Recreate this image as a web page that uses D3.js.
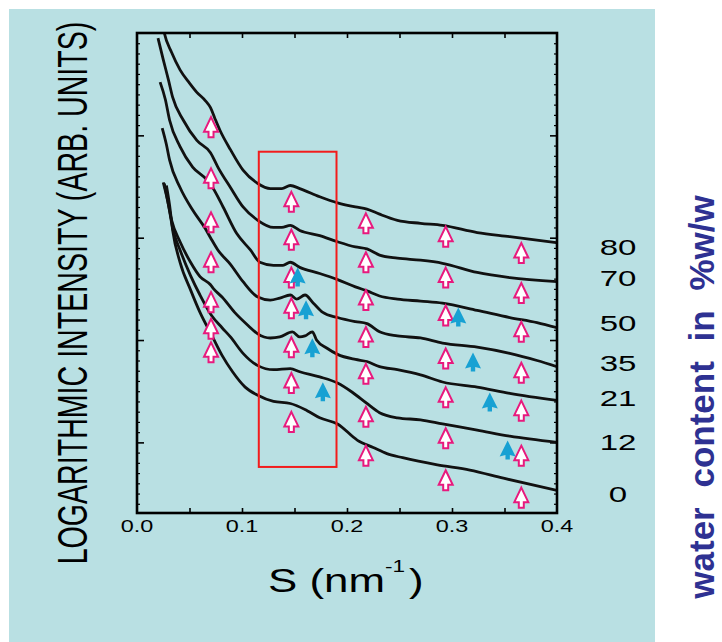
<!DOCTYPE html>
<html>
<head>
<meta charset="utf-8">
<title>SAXS curves vs water content</title>
<script src="https://d3js.org/d3.v7.min.js"></script>
<style>
  body { margin: 0; background: #fff; }
  svg { display: block; font-family: "Liberation Sans", Arial, sans-serif; }
  .curve { fill: none; stroke: #111; stroke-width: 2.8px; stroke-linejoin: round; }
  .axis line { stroke: #000; }
  .axis path { display: none; }
</style>
</head>
<body>
<script>
// water content (%w/w), top curve to bottom curve
const water = ["80", "70", "50", "35", "21", "12", "0"];
const waterLabelLevel = [1.91, 1.61, 1.17, 0.77, 0.43, 0.00, -0.51];

// scattering curves: [s (nm^-1), log intensity, arb. units]
const c80 = [[0.025,4.05],[0.026,4.00],[0.033,3.81],[0.041,3.64],[0.050,3.51],[0.057,3.42],[0.065,3.34],[0.070,3.27],[0.074,3.17],[0.079,3.05],[0.089,2.86],[0.101,2.66],[0.115,2.53],[0.127,2.48],[0.138,2.48],[0.146,2.51],[0.155,2.48],[0.174,2.40],[0.191,2.34],[0.208,2.30],[0.219,2.28],[0.231,2.23],[0.248,2.17],[0.270,2.14],[0.291,2.12],[0.324,2.05],[0.355,2.01],[0.400,1.95]];
const c70 = [[0.020,3.95],[0.025,3.74],[0.030,3.54],[0.034,3.37],[0.044,3.15],[0.057,2.95],[0.070,2.83],[0.077,2.69],[0.089,2.49],[0.101,2.30],[0.115,2.17],[0.130,2.10],[0.138,2.10],[0.146,2.12],[0.155,2.07],[0.174,2.02],[0.191,1.96],[0.208,1.91],[0.219,1.89],[0.231,1.83],[0.248,1.80],[0.270,1.78],[0.291,1.75],[0.324,1.66],[0.355,1.61],[0.400,1.57]];
const c50 = [[0.022,3.52],[0.027,3.35],[0.031,3.15],[0.041,2.89],[0.053,2.69],[0.067,2.56],[0.072,2.49],[0.082,2.30],[0.095,2.04],[0.108,1.88],[0.117,1.76],[0.130,1.73],[0.139,1.73],[0.146,1.76],[0.155,1.71],[0.174,1.65],[0.191,1.59],[0.208,1.52],[0.219,1.48],[0.231,1.43],[0.248,1.40],[0.270,1.38],[0.291,1.36],[0.324,1.29],[0.355,1.22],[0.381,1.17],[0.400,1.12]];
const c35 = [[0.024,3.07],[0.028,2.91],[0.031,2.76],[0.041,2.49],[0.053,2.27],[0.065,2.09],[0.070,2.00],[0.077,1.88],[0.089,1.74],[0.101,1.57],[0.115,1.42],[0.127,1.39],[0.136,1.41],[0.146,1.44],[0.152,1.40],[0.160,1.44],[0.168,1.36],[0.177,1.27],[0.191,1.22],[0.208,1.18],[0.219,1.16],[0.231,1.08],[0.248,1.04],[0.270,1.02],[0.291,0.97],[0.324,0.93],[0.355,0.87],[0.381,0.80],[0.400,0.74]];
const c21 = [[0.025,2.54],[0.029,2.37],[0.033,2.17],[0.041,1.96],[0.051,1.76],[0.060,1.62],[0.070,1.54],[0.073,1.50],[0.081,1.42],[0.093,1.27],[0.106,1.14],[0.115,1.06],[0.127,1.02],[0.136,1.03],[0.148,1.08],[0.155,1.03],[0.160,1.04],[0.167,1.08],[0.171,1.00],[0.181,0.92],[0.191,0.86],[0.208,0.81],[0.219,0.79],[0.231,0.74],[0.248,0.71],[0.270,0.66],[0.291,0.59],[0.324,0.54],[0.355,0.48],[0.400,0.41]];
const c12 = [[0.026,2.53],[0.030,2.32],[0.034,2.09],[0.041,1.88],[0.051,1.63],[0.060,1.44],[0.071,1.24],[0.081,1.12],[0.089,1.03],[0.101,0.87],[0.115,0.75],[0.130,0.71],[0.146,0.72],[0.155,0.69],[0.174,0.64],[0.191,0.58],[0.205,0.49],[0.219,0.38],[0.231,0.29],[0.248,0.24],[0.270,0.22],[0.291,0.18],[0.324,0.12],[0.355,0.06],[0.400,0.00]];
const c0 = [[0.028,2.51],[0.031,2.32],[0.034,2.07],[0.041,1.76],[0.051,1.49],[0.060,1.27],[0.071,1.05],[0.081,0.85],[0.091,0.69],[0.103,0.54],[0.115,0.46],[0.130,0.40],[0.146,0.38],[0.162,0.31],[0.174,0.24],[0.191,0.18],[0.210,0.02],[0.225,-0.05],[0.238,-0.11],[0.253,-0.15],[0.286,-0.22],[0.317,-0.27],[0.349,-0.35],[0.400,-0.47]];
const curves = [c80, c70, c50, c35, c21, c12, c0];

// open (pink) arrows: one column per reflection order, one row per curve
const pinkS = [0.0705, 0.147, 0.218, 0.294, 0.366];
const pinkLevels = [
  [3.08, 2.58, 2.15, 1.76, 1.37, 1.11, 0.88],
  [2.35, 1.98, 1.61, 1.31, 0.93, 0.58, 0.20],
  [2.14, 1.76, 1.39, 1.03, 0.67, 0.25, -0.13],
  [2.01, 1.61, 1.24, 0.82, 0.44, 0.04, -0.37],
  [1.85, 1.46, 1.08, 0.68, 0.31, -0.13, -0.54]
];

// filled (blue) arrows
const blueS = [0.153, 0.161, 0.167, 0.177, 0.306, 0.320, 0.336, 0.353];
const blueLevel = [1.61, 1.29, 0.92, 0.49, 1.22, 0.78, 0.39, -0.08];

// highlighted region
const boxS = [0.116, 0.190];
const boxLevel = [-0.24, 2.84];

// axes
const sTicks = [0.0, 0.1, 0.2, 0.3, 0.4];
const sTickLabels = ["0.0", "0.1", "0.2", "0.3", "0.4"];
const levelMajor = [0, 1, 2, 3];

const W = 722, H = 642;
const plot = { left: 137, right: 557, top: 33, bottom: 513 };

const svg = d3.select("body").append("svg")
    .attr("width", W)
    .attr("height", H);

svg.append("rect").attr("width", W).attr("height", H).attr("fill", "#fff");
svg.append("rect")
    .attr("x", 9).attr("y", 9)
    .attr("width", 646).attr("height", H - 9)
    .attr("fill", "#b9e0e3");

const x = d3.scaleLinear().domain([0, 0.4]).range([plot.left, plot.right]);
const y = d3.scaleLinear().domain([-0.69, 4]).range([plot.bottom, plot.top]);

svg.append("clipPath").attr("id", "clip")
  .append("rect")
    .attr("x", plot.left).attr("y", plot.top)
    .attr("width", plot.right - plot.left).attr("height", plot.bottom - plot.top);

// ticks (inward) on all four sides
const sMinor = d3.range(0.05, 0.4, 0.05);
const levelMinor = d3.range(-6, 40).map(d => d / 10).filter(d => !levelMajor.includes(d));

svg.append("g").attr("class", "axis")
    .attr("transform", `translate(0,${plot.bottom})`)
    .call(d3.axisBottom(x).tickValues(sMinor).tickSize(-5).tickFormat(""))
    .selectAll("line").attr("stroke-width", 1.6);
svg.append("g").attr("class", "axis")
    .attr("transform", `translate(0,${plot.top})`)
    .call(d3.axisTop(x).tickValues(sMinor).tickSize(-5).tickFormat(""))
    .selectAll("line").attr("stroke-width", 1.6);

[[plot.left, d3.axisLeft], [plot.right, d3.axisRight]].forEach(([px, ax]) => {
  svg.append("g").attr("class", "axis")
      .attr("transform", `translate(${px},0)`)
      .call(ax(y).tickValues(levelMajor).tickSize(-7).tickFormat(""))
      .selectAll("line").attr("stroke-width", 1.6);
  svg.append("g").attr("class", "axis")
      .attr("transform", `translate(${px},0)`)
      .call(ax(y).tickValues(levelMinor).tickSize(-3).tickFormat(""))
      .selectAll("line").attr("stroke-width", 1.2);
});

// curves
const line = d3.line()
    .x(d => x(d[0]))
    .y(d => y(d[1]))
    .curve(d3.curveMonotoneX);

svg.append("g").attr("clip-path", "url(#clip)")
  .selectAll("path")
  .data(curves)
  .join("path")
    .attr("class", "curve")
    .attr("d", line);

// red box
svg.append("rect")
    .attr("x", x(boxS[0])).attr("y", y(boxLevel[1]))
    .attr("width", x(boxS[1]) - x(boxS[0]))
    .attr("height", y(boxLevel[0]) - y(boxLevel[1]))
    .attr("fill", "none")
    .attr("stroke", "#f21c1c")
    .attr("stroke-width", 2);

// arrow markers
const openArrow = "M0,-10 L7,4.5 L2.5,4.5 L2.5,10 L-2.5,10 L-2.5,4.5 L-7,4.5 Z";
const solidArrow = "M0,-10 L8,6 L2.2,4.5 L2.2,9 L-2.2,9 L-2.2,4.5 L-8,6 Z";

const pinkPoints = pinkS.flatMap((s, i) => pinkLevels[i].map(v => [s, v]));
const bluePoints = blueS.map((s, i) => [s, blueLevel[i]]);

svg.append("g").selectAll("path")
  .data(pinkPoints)
  .join("path")
    .attr("transform", d => `translate(${x(d[0])},${y(d[1])})`)
    .attr("d", openArrow)
    .attr("fill", "#fff")
    .attr("stroke", "#e8197d")
    .attr("stroke-width", 2)
    .attr("stroke-linejoin", "miter");

svg.append("g").selectAll("path")
  .data(bluePoints)
  .join("path")
    .attr("transform", d => `translate(${x(d[0])},${y(d[1])})`)
    .attr("d", solidArrow)
    .attr("fill", "#17a1d3");

// frame
svg.append("rect")
    .attr("x", plot.left).attr("y", plot.top)
    .attr("width", plot.right - plot.left).attr("height", plot.bottom - plot.top)
    .attr("fill", "none")
    .attr("stroke", "#000")
    .attr("stroke-width", 2.6);

// tick labels (stretched like the scanned figure)
svg.append("g").selectAll("text")
  .data(sTicks)
  .join("text")
    .attr("transform", d => `translate(${x(d)},532) scale(1.42,1)`)
    .attr("text-anchor", "middle")
    .attr("font-size", 16.5)
    .attr("fill", "#000")
    .text((d, i) => sTickLabels[i]);

// water content labels
svg.append("g").selectAll("text")
  .data(water)
  .join("text")
    .attr("transform", (d, i) => `translate(618,${y(waterLabelLevel[i]) + 7.9}) scale(1.5,1)`)
    .attr("text-anchor", "middle")
    .attr("font-size", 22)
    .attr("fill", "#000")
    .text(d => d);

// x title
const xt = svg.append("text")
    .attr("transform", "translate(268,592) scale(1.33,1)")
    .attr("font-size", 33)
    .attr("fill", "#000");
xt.append("tspan").text("S (nm");
xt.append("tspan").attr("font-size", 17).attr("dy", -20).text("-1");
xt.append("tspan").attr("dy", 20).attr("dx", 3).text(")");

// y title
svg.append("text")
    .attr("transform", "translate(87,293) scale(1.47,1) rotate(-90)")
    .attr("text-anchor", "middle")
    .attr("font-size", 28.6)
    .attr("fill", "#000")
    .text("LOGARITHMIC INTENSITY (ARB. UNITS)");

// right-hand title
svg.append("text")
    .attr("transform", "translate(714,397) rotate(-90)")
    .attr("text-anchor", "middle")
    .attr("font-size", 35)
    .attr("font-weight", "bold")
    .attr("word-spacing", 10)
    .attr("fill", "#2e3192")
    .text("water content in %w/w");
</script>
</body>
</html>
